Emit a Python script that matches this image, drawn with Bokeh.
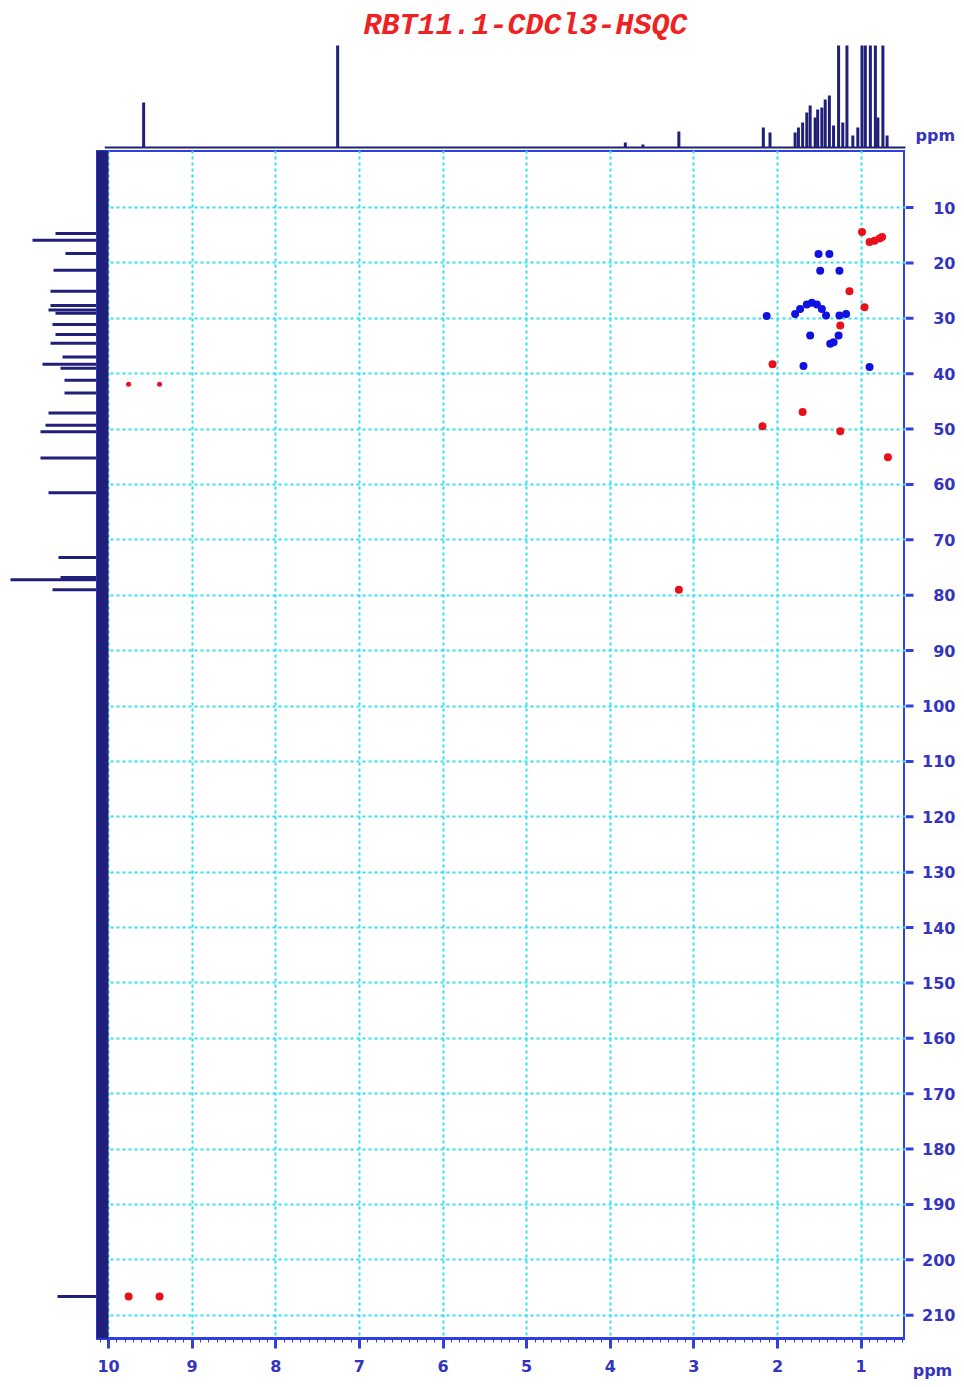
import numpy as np
from bokeh.plotting import figure
from bokeh.layouts import column, row
from bokeh.models import Range1d, FixedTicker, Spacer, Span
from bokeh.core.properties import value
from bokeh.embed import file_html
from bokeh.resources import INLINE

# ---------------- data ----------------
title_text = "RBT11.1-CDCl3-HSQC"
axis_unit = "ppm"

# 1H projection (ppm, visible intensity; tallest peaks run off the top)
h1_ppm = [9.58, 7.26, 3.82, 3.61, 3.18, 2.17, 2.09, 1.79, 1.75, 1.70, 1.65, 1.61,
          1.55, 1.52, 1.47, 1.43, 1.38, 1.33, 1.27, 1.22, 1.17, 1.10, 1.04, 0.99,
          0.95, 0.89, 0.83, 0.80, 0.74, 0.69]
h1_int = [45, 102, 5, 3, 16, 20, 15, 15, 20, 25, 35, 42,
          30, 38, 40, 48, 52, 22, 102, 25, 102, 12, 20, 102,
          102, 102, 102, 30, 102, 12]

# 13C projection (ppm, intensity)
c13_ppm = [14.7, 15.9, 18.3, 21.3, 25.1, 27.7, 28.5, 29.1, 31.1, 32.9, 34.5, 37.0,
           38.3, 39.0, 41.2, 43.5, 47.1, 49.3, 50.5, 55.2, 61.5, 73.2, 76.8, 77.2,
           79.0, 206.6]
c13_int = [45, 68, 35, 47, 50, 50, 52, 45, 48, 45, 50, 38,
           58, 40, 36, 36, 52, 55, 60, 60, 52, 42, 40, 90,
           48, 43]

# HSQC cross peaks, positive (red)
red_h = [0.99, 0.90, 0.84, 0.78, 0.75, 1.14, 0.96, 1.25, 2.06, 1.70, 2.18, 1.25,
         0.68, 3.18, 9.76, 9.39]
red_c = [14.4, 16.2, 16.0, 15.6, 15.3, 25.1, 28.0, 31.3, 38.3, 46.9, 49.5, 50.4,
         55.1, 79.0, 206.6, 206.6]
# weak red cross peaks
red_small_h = [9.76, 9.39]
red_small_c = [41.9, 41.9]

# HSQC cross peaks, negative (blue)
blue_h = [1.51, 1.38, 1.49, 1.26, 2.13, 1.79, 1.73, 1.65, 1.59, 1.53, 1.47, 1.42,
          1.26, 1.18, 1.61, 1.27, 1.37, 1.33, 1.69, 0.90]
blue_c = [18.4, 18.4, 21.4, 21.4, 29.6, 29.2, 28.3, 27.5, 27.2, 27.5, 28.3, 29.5,
          29.5, 29.2, 33.1, 33.1, 34.6, 34.3, 38.6, 38.8]

x_ticks = [10, 9, 8, 7, 6, 5, 4, 3, 2, 1]
y_ticks = [10, 20, 30, 40, 50, 60, 70, 80, 90, 100, 110, 120, 130, 140, 150,
           160, 170, 180, 190, 200, 210]

# ---------------- styles ----------------
NAVY = "#20207a"
AXIS_BLUE = "#2f3fe0"
LABEL_BLUE = "#3434c0"
GRID_CYAN = "#33e0f0"
RED = "#e8101a"
BLUE = "#1010e0"
FONT = "DejaVu Sans"
LABEL_SIZE = "16px"

H_LEFT, H_RIGHT = 10.144, 0.47       # main frame limits (1H)
H_SPEC_LEFT = 10.048                 # where the 1H spectrum starts
C13_BASE = 10.072                    # 13C projection baseline, drawn along the frame edge
C_TOP, C_BOTTOM = -0.3, 214.2        # main frame limits (13C)
x_range = Range1d(H_LEFT, H_RIGHT)
y_range = Range1d(C_BOTTOM, C_TOP)


def bare(fig):
    fig.grid.visible = False
    fig.outline_line_color = None
    return fig


def style_axis(ax, tick_out, standoff):
    ax.axis_line_color = AXIS_BLUE
    ax.axis_line_width = 3
    ax.major_tick_line_color = AXIS_BLUE
    ax.major_tick_line_width = 3
    ax.minor_tick_line_color = AXIS_BLUE
    ax.minor_tick_line_width = 1
    ax.major_tick_out = tick_out
    ax.major_tick_in = 0
    ax.minor_tick_out = 4
    ax.minor_tick_in = 0
    ax.major_label_standoff = standoff
    ax.major_label_text_color = LABEL_BLUE
    ax.major_label_text_font = FONT
    ax.major_label_text_font_style = "bold"
    ax.major_label_text_font_size = LABEL_SIZE


# ---------------- main HSQC ----------------
main = figure(width=809, height=1232, x_range=x_range, y_range=y_range,
              output_backend="svg", toolbar_location=None,
              x_axis_location="below", y_axis_location=None,
              min_border_left=0, min_border_top=0, min_border_right=0,
              min_border_bottom=42)
main.outline_line_color = AXIS_BLUE
main.outline_line_width = 3
main.outline_line_alpha = 1

main.xaxis.ticker = FixedTicker(ticks=x_ticks,
                                minor_ticks=list(np.round(np.arange(0.5, 10.15, 0.1), 2)))
style_axis(main.xaxis[0], 10, 11)

main.xgrid[0].ticker = FixedTicker(ticks=x_ticks)
main.ygrid[0].ticker = FixedTicker(ticks=y_ticks)
for g in (main.xgrid[0], main.ygrid[0]):
    g.grid_line_color = GRID_CYAN
    g.grid_line_width = 2
    g.grid_line_dash = "3 3"

main.add_layout(Span(location=C13_BASE, dimension="height", line_color=NAVY,
                     line_width=12))

main.scatter(blue_h, blue_c, size=8, color=BLUE, line_width=0)
main.scatter(red_h, red_c, size=8, color=RED, line_width=0)
main.scatter(red_small_h, red_small_c, size=5, color=RED, line_width=0)

# ---------------- right scale (13C ticks + unit) ----------------
right = bare(figure(width=51, height=1232, x_range=Range1d(0, 51), y_range=y_range,
                    output_backend="svg", toolbar_location=None,
                    x_axis_location="below", y_axis_location=None,
                    min_border_left=0, min_border_top=0, min_border_right=0,
                    min_border_bottom=42))
right.xaxis.ticker = FixedTicker(ticks=[27], minor_ticks=[])
right.xaxis.major_label_overrides = {27: axis_unit}
style_axis(right.xaxis[0], 0, 22)
right.xaxis.axis_line_color = None
right.xaxis.major_tick_line_color = None

n = len(y_ticks)
right.segment(x0=[0] * n, y0=y_ticks, x1=[8] * n, y1=y_ticks,
              line_color=AXIS_BLUE, line_width=3)
right.text(x=[50] * n, y=y_ticks, text=[str(t) for t in y_ticks],
           text_align="right", text_baseline="middle", text_font=value(FONT),
           text_font_style="bold", text_font_size=LABEL_SIZE, text_color=LABEL_BLUE)

# ---------------- top 1H projection ----------------
top = bare(figure(width=852, height=142, x_range=Range1d(H_SPEC_LEFT, -0.140),
                  y_range=Range1d(-3, 139),
                  output_backend="svg", toolbar_location=None,
                  x_axis_location=None, y_axis_location=None,
                  min_border_left=0, min_border_top=0, min_border_right=0,
                  min_border_bottom=0))
top.segment(x0=[H_SPEC_LEFT], y0=[0], x1=[H_RIGHT], y1=[0], line_color=NAVY, line_width=2)
top.segment(x0=h1_ppm, y0=[0] * len(h1_ppm), x1=h1_ppm, y1=h1_int,
            line_color=NAVY, line_width=3)
top.text(x=[5.014], y=[122], text=[title_text], text_align="center",
         text_baseline="middle", text_font=value("Liberation Mono"),
         text_font_style="bold italic", text_font_size="30px", text_color="#ee2222")
top.text(x=[0.35], y=[12], text=[axis_unit], text_align="left",
         text_baseline="middle", text_font=value(FONT), text_font_style="bold",
         text_font_size=LABEL_SIZE, text_color=LABEL_BLUE)

# ---------------- left 13C projection ----------------
left = bare(figure(width=88, height=1232, x_range=Range1d(92, 4), y_range=y_range,
                   output_backend="svg", toolbar_location=None,
                   x_axis_location=None, y_axis_location=None,
                   min_border_left=0, min_border_top=0, min_border_right=0,
                   min_border_bottom=42))
left.segment(x0=[0] * len(c13_ppm), y0=c13_ppm, x1=c13_int, y1=c13_ppm,
             line_color=NAVY, line_width=3)

inner = column(row(Spacer(width=96, height=142), top), row(left, main, right))
layout = column(Spacer(width=956, height=8), row(Spacer(width=8, height=1374), inner))

open("out.html", "w").write(file_html(layout, INLINE))
